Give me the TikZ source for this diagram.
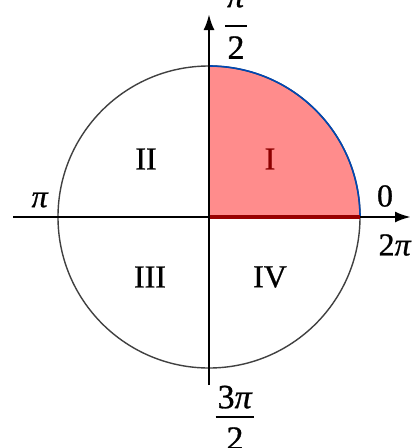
\documentclass[tikz,border=0pt]{standalone}
\usepackage{fontspec}
\setmainfont{Liberation Serif}
\usetikzlibrary{arrows.meta}
\newcommand{\myfrac}[3]{{\renewcommand{\arraystretch}{0}\setlength{\arrayrulewidth}{1.6pt}\begin{tabular}{@{\hspace{2pt}}c@{\hspace{2pt}}}#1\rule[-#3]{0pt}{0pt}\\\hline\rule{0pt}{32pt}#2\end{tabular}}}
\begin{document}
\begin{tikzpicture}[x=1pt,y=-1pt,
  lbl/.style={font=\fontsize{32}{38}\selectfont\addfontfeatures{FakeBold=0.8}, inner sep=0pt},
  flbl/.style={font=\fontsize{34}{40}\selectfont\addfontfeatures{FakeBold=0.8}, inner sep=0pt, anchor=south},
  axis/.style={line width=2.6pt, -{Latex[length=16pt,width=11pt]}}]
\useasboundingbox (0,0) rectangle (415,448);
\coordinate (O) at (209,217);
\coordinate (E) at (360,217);
% quadrant I fill
\fill[red!50!white, fill opacity=0.9] (O) -- (E) arc[start angle=0, end angle=-90, radius=151] -- cycle;
% circle
\draw[line width=1.4pt, black!75] (O) circle[radius=151];
% blue arc
\draw[line width=1.6pt, blue!60!cyan!70!black] (E) arc[start angle=0, end angle=-90, radius=151];
% axes
\coordinate (xl) at (13,217);
\coordinate (xr) at (411,217);
\coordinate (yb) at (209,385);
\coordinate (yt) at (209,14);
\draw[axis] (xl) -- (xr);
\draw[axis] (yb) -- (yt);
% red line on the axis
\draw[line width=4.2pt, red!60!black] ([xshift=1.3pt]O) -- (E);
% labels
\node[lbl] (q1) at (270,159) {\textcolor{red!55!black}{I}};
\node[lbl] (q2) at (146,159) {II};
\node[lbl] (q3) at (150,277) {III};
\node[lbl] (q4) at (270,277) {IV};
\node[lbl] (pi) at (40,200) {\textit{π}};
\node[lbl] (zero) at (385,196) {0};
\node[lbl] (tpi) at (395,245) {2\textit{π}};
\node[flbl] (half) at (236,59) {\myfrac{\textit{π}}{2}{18pt}};
\node[flbl] (thr) at (235,450) {\myfrac{3\textit{π}}{2}{8pt}};
\end{tikzpicture}
\end{document}
